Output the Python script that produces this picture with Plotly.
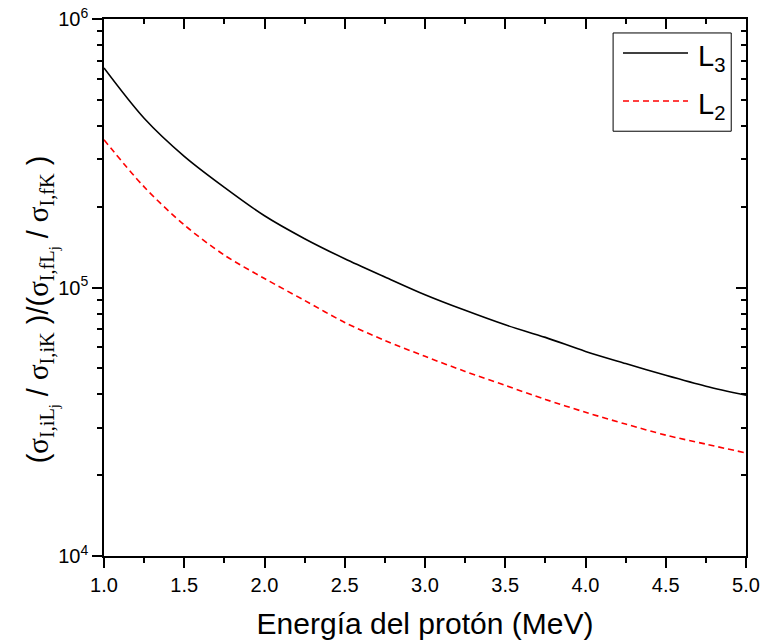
import plotly.graph_objects as go

# ---- data ----
energy = [1.0, 1.25, 1.5, 1.75, 2.0, 2.25, 2.5, 2.75, 3.0, 3.25, 3.5, 3.75, 4.0, 4.25, 4.5, 4.75, 5.0]
ratio_L3 = [6.57e5, 4.27e5, 3.08e5, 2.36e5, 1.85e5, 1.52e5, 1.28e5, 1.095e5, 9.40e4, 8.22e4,
            7.26e4, 6.52e4, 5.78e4, 5.21e4, 4.71e4, 4.29e4, 3.97e4]
ratio_L2 = [3.55e5, 2.37e5, 1.71e5, 1.32e5, 1.08e5, 8.95e4, 7.41e4, 6.35e4, 5.54e4, 4.87e4,
            4.32e4, 3.83e4, 3.43e4, 3.10e4, 2.82e4, 2.61e4, 2.42e4]

x_ticks = [1.0, 1.5, 2.0, 2.5, 3.0, 3.5, 4.0, 4.5, 5.0]
x_ticktext = ["1.0", "1.5", "2.0", "2.5", "3.0", "3.5", "4.0", "4.5", "5.0"]
x_minor = [1.25, 1.75, 2.25, 2.75, 3.25, 3.75, 4.25, 4.75]
y_ticks = [1e4, 1e5, 1e6]
y_ticktext = ["10<sup>4</sup>", "10<sup>5</sup>", "10<sup>6</sup>"]
y_minor = [m * 10 ** d for d in (4, 5) for m in range(2, 10)]

FONT = "Liberation Sans, Arial, sans-serif"
SER = "font-family:Liberation Serif"

fig = go.Figure()
fig.add_trace(go.Scatter(x=energy, y=ratio_L3, mode="lines", name="L3",
                         line=dict(color="black", width=1.6, shape="spline", smoothing=0.9),
                         showlegend=False))
fig.add_trace(go.Scatter(x=energy, y=ratio_L2, mode="lines", name="L2",
                         line=dict(color="#ff0000", width=1.6, dash="6px,4px", shape="spline", smoothing=0.9),
                         showlegend=False))

axis_common = dict(showgrid=False, zeroline=False, showline=True, linecolor="black",
                   linewidth=1.5, tickcolor="black", tickwidth=1.5, automargin=False)

fig.update_layout(
    width=762, height=641,
    margin=dict(l=104, r=16, t=19, b=85),
    paper_bgcolor="white", plot_bgcolor="white",
    font=dict(family=FONT, color="black", size=20),
    xaxis=dict(range=[1, 5], tickmode="array", tickvals=x_ticks, ticktext=x_ticktext,
               ticks="outside", ticklen=10, tickfont=dict(size=20),
               minor=dict(tickvals=x_minor, ticks="outside", ticklen=5, tickcolor="black", tickwidth=1.5),
               title=dict(text="Energía del protón (MeV)", font=dict(size=30), standoff=18),
               **axis_common),
    xaxis2=dict(range=[1, 5], overlaying="x", side="top", anchor="y", tickmode="array",
                tickvals=x_ticks, showticklabels=False, ticks="inside", ticklen=10,
                minor=dict(tickvals=x_minor, ticks="inside", ticklen=5, tickcolor="black", tickwidth=1.5),
                **axis_common),
    yaxis=dict(type="log", range=[4, 6], tickmode="array", tickvals=y_ticks, ticktext=y_ticktext,
               ticks="outside", ticklen=10, tickfont=dict(size=20),
               minor=dict(tickvals=y_minor, ticks="outside", ticklen=5, tickcolor="black", tickwidth=1.5),
               **axis_common),
    yaxis2=dict(type="log", range=[4, 6], overlaying="y", side="right", anchor="x",
                tickmode="array", tickvals=y_ticks, showticklabels=False, ticks="inside", ticklen=10,
                minor=dict(tickvals=y_minor, ticks="inside", ticklen=5, tickcolor="black", tickwidth=1.5),
                **axis_common),
)

# helper trace so that the mirrored axes are drawn
fig.add_trace(go.Scatter(x=energy, y=ratio_L3, xaxis="x2", yaxis="y2", mode="lines",
                         line=dict(width=0, color="rgba(0,0,0,0)"), hoverinfo="skip", showlegend=False))

# y-axis title
ytitle = (f"(<span style='{SER}'>σ</span><sub><span style='{SER}'>I,iL<sub>j</sub></span></sub> / "
          f"<span style='{SER}'>σ</span><sub><span style='{SER}'>I,iK</span></sub> )/("
          f"<span style='{SER}'>σ</span><sub><span style='{SER}'>I,fL<sub>j</sub></span></sub> / "
          f"<span style='{SER}'>σ</span><sub><span style='{SER}'>I,fK</span></sub> )")
fig.add_annotation(text=ytitle, xref="paper", yref="paper", x=-0.096, y=0.46,
                   xanchor="center", yanchor="middle", textangle=-90, showarrow=False,
                   font=dict(size=29, family=FONT))

# legend box (manual, to match line sample length)
fig.add_shape(type="rect", xref="paper", yref="paper", x0=0.793, x1=0.977, y0=0.791, y1=0.974,
              line=dict(color="black", width=1), fillcolor="white", layer="above")
fig.add_shape(type="line", xref="paper", yref="paper", x0=0.8084, x1=0.9097, y0=0.9367, y1=0.9367,
              line=dict(color="black", width=1.6), layer="above")
fig.add_shape(type="line", xref="paper", yref="paper", x0=0.8084, x1=0.9097, y0=0.8473, y1=0.8473,
              line=dict(color="#ff0000", width=1.6, dash="6px,4px"), layer="above")
fig.add_annotation(text="L<sub>3</sub>", xref="paper", yref="paper", x=0.922, y=0.9367,
                   xanchor="left", yanchor="middle", showarrow=False, font=dict(size=29, family=FONT), yshift=-5)
fig.add_annotation(text="L<sub>2</sub>", xref="paper", yref="paper", x=0.922, y=0.8473,
                   xanchor="left", yanchor="middle", showarrow=False, font=dict(size=29, family=FONT), yshift=-5)

fig.write_html("out.html")
